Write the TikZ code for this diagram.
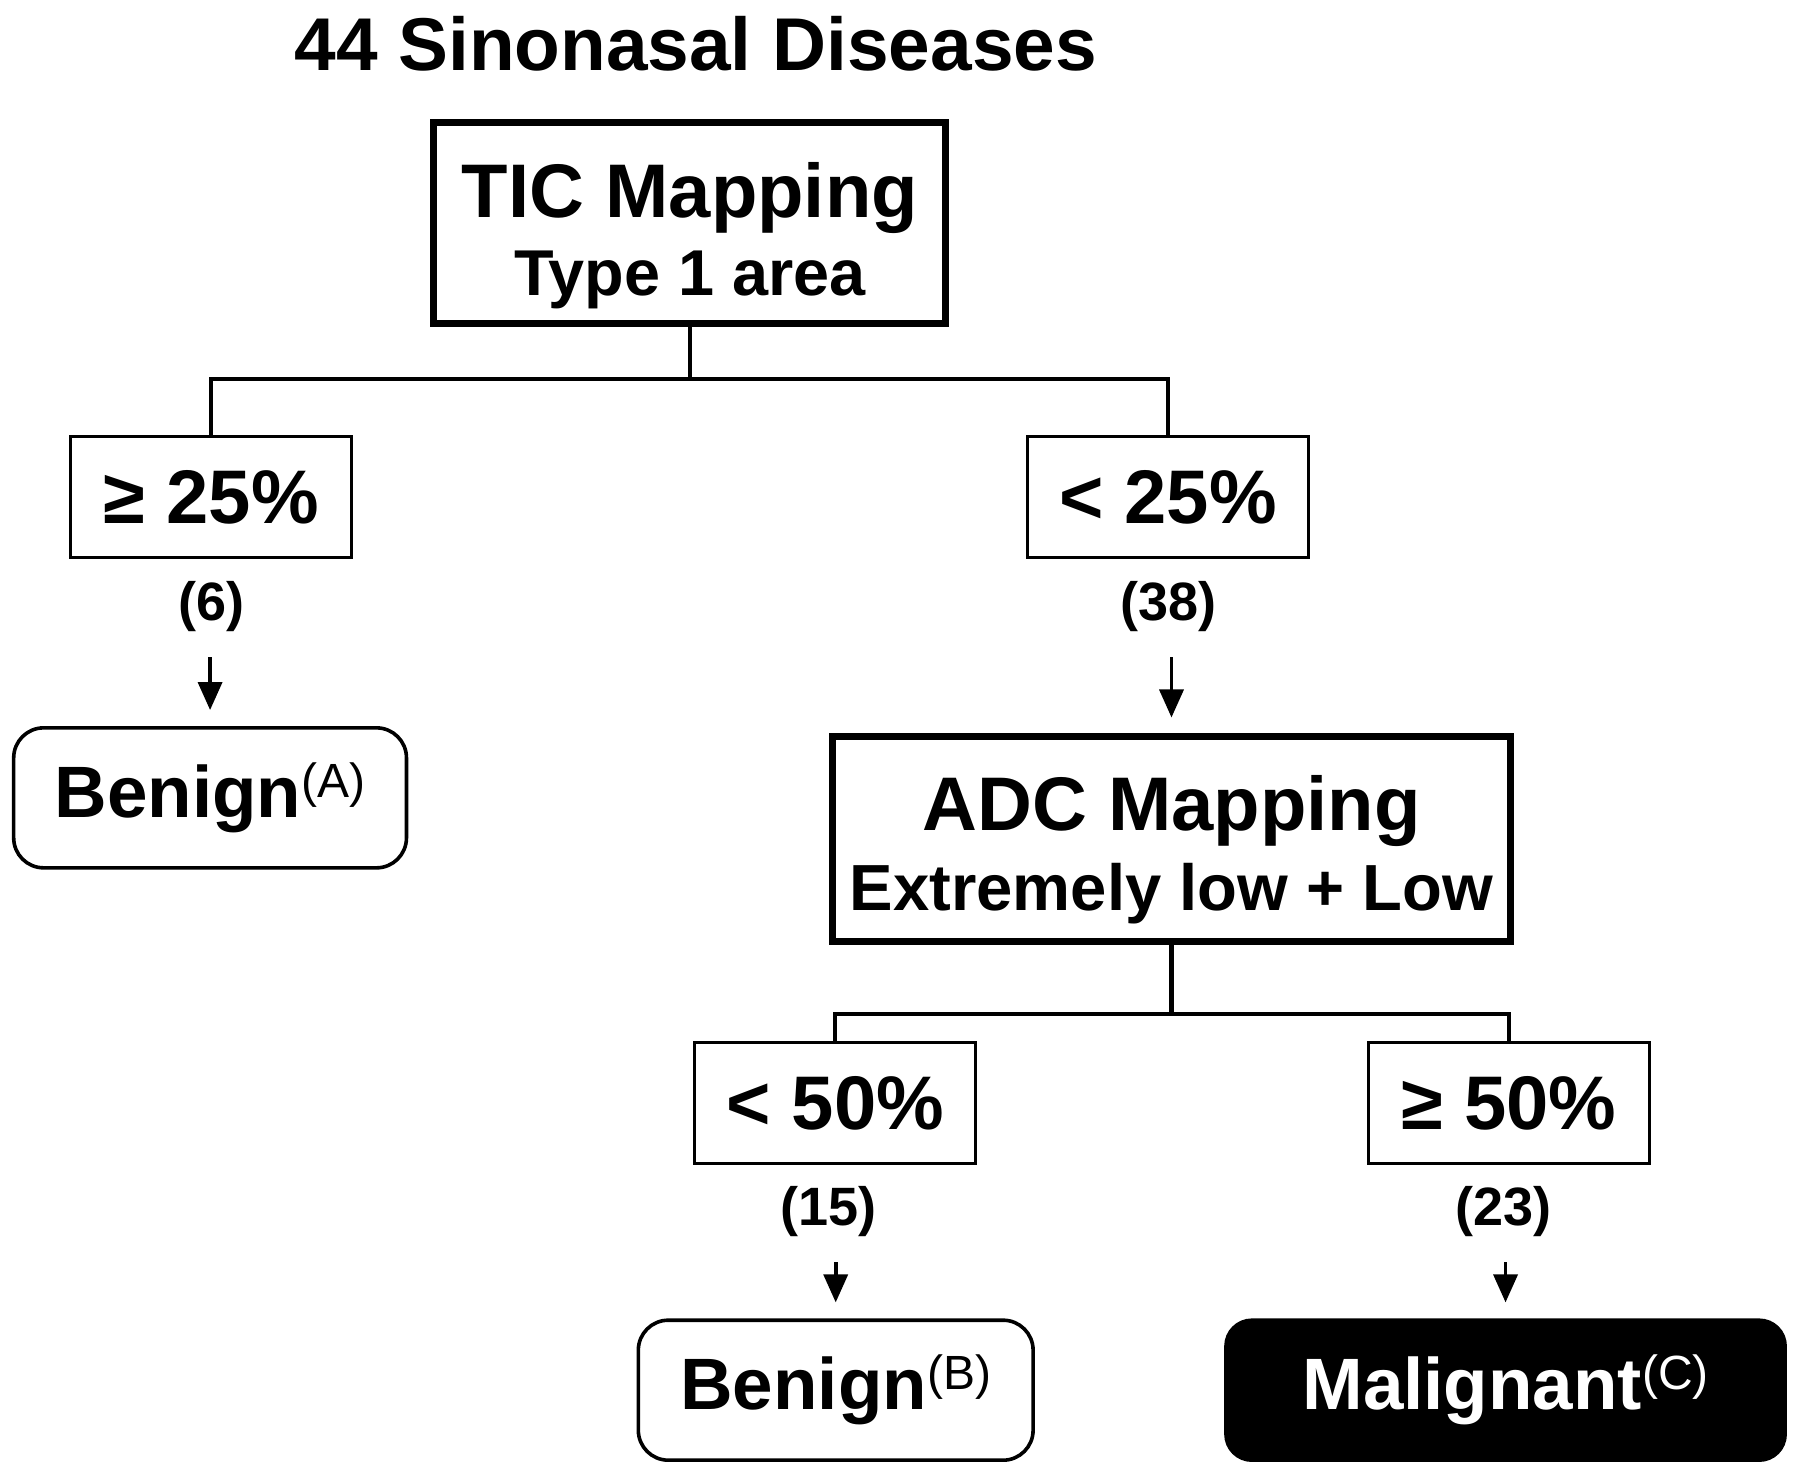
\documentclass[tikz,border=0pt]{standalone}
\usepackage{fontspec}
\setmainfont{Liberation Sans}
\usetikzlibrary{arrows.meta}
\newcommand{\grp}[1]{\raisebox{5pt}{\fontsize{12}{12}\selectfont\mdseries(#1)}}

\begin{document}
\begin{tikzpicture}[x=0.287pt,y=-0.287pt,
bigbox/.style={draw,line width=1.75pt,align=center,inner sep=0pt,font=\bfseries},
cutbox/.style={draw,line width=0.75pt,inner sep=0pt,minimum width=70.2pt,minimum height=30.3pt,font=\fontsize{19}{22}\selectfont\bfseries},
endbox/.style={draw,line width=0.9pt,rounded corners=7.5pt,inner sep=0pt,minimum height=35pt,font=\fontsize{18.2}{22}\selectfont\bfseries},
count/.style={font=\fontsize{13.5}{16}\selectfont\bfseries},
link/.style={line width=1.1pt},
arr/.style={line width=0.9pt,-{Triangle[width=6pt,length=7pt]},shorten <=3pt,shorten >=4pt}]
\useasboundingbox (0,0) rectangle (1568,1288);
\node[font=\fontsize{18.7}{22}\selectfont\bfseries] (title) at (606,38) {44 Sinonasal Diseases};
\node[bigbox,minimum width=128pt,minimum height=50.2pt] (tic) at (601,194.5)
{{\fontsize{19}{19}\selectfont\rule{0pt}{20pt}TIC Mapping}\\[3.5pt]{\fontsize{16.2}{19}\selectfont Type 1 area}};
\node[cutbox] (ge25) at (184,433) {≥ 25\%};
\node[cutbox] (lt25) at (1017.5,433) {< 25\%};
\node[count] (n6) at (184,528) {(6)};
\node[count] (n38) at (1018,528) {(38)};
\node[endbox,minimum width=98.2pt] (benA) at (183,695) {Benign\grp{A}};
\node[bigbox,minimum width=169.6pt,minimum height=51.1pt] (adc) at (1020.5,731)
{{\fontsize{19}{19}\selectfont\rule{0pt}{19pt}ADC Mapping}\\[3.1pt]{\fontsize{16.3}{19}\selectfont Extremely low + Low}};
\node[cutbox] (lt50) at (727.5,961) {< 50\%};
\node[cutbox] (ge50) at (1314.5,961) {≥ 50\%};
\node[count] (n15) at (722,1055) {(15)};
\node[count] (n23) at (1310,1055) {(23)};
\node[endbox,minimum width=98.7pt] (benB) at (728,1211) {Benign\grp{B}};
\node[endbox,minimum width=139.8pt,fill=black,text=white,rounded corners=6.5pt] (mal) at (1311.5,1211) {Malignant\grp{C}};
% tree lines
\draw[link] (tic.south) -- ++(0,45) coordinate (j1);
\draw[link] (ge25.north) |- (j1) -| (lt25.north);
\draw[link] (adc.south) -- ++(0,60) coordinate (j2);
\draw[link] (lt50.north) |- (j2) -| (ge50.north);
\draw[arr] (n6.south -| benA.north) -- (benA.north);
\draw[arr] (n38.south -| adc.north) -- (adc.north);
\draw[arr] (n15.south -| benB.north) -- (benB.north);
\draw[arr] (n23.south -| mal.north) -- (mal.north);
\end{tikzpicture}
\end{document}
